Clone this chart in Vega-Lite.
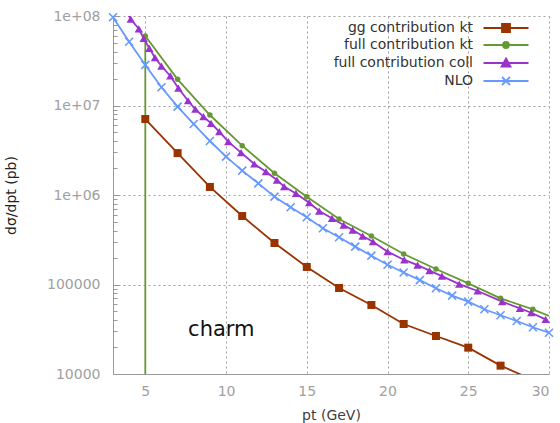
{
  "$schema": "https://vega.github.io/schema/vega-lite/v6.json",
  "width": 436,
  "height": 358,
  "autosize": "none",
  "padding": {"left": 113, "top": 16, "right": 11, "bottom": 49},
  "background": "white",
  "config": {"font": "DejaVu Sans", "view": {"stroke": null}},
  "datasets": {
    "curves": [
      {"series": "gg contribution kt", "pt": 5, "v": 7060000},
      {"series": "gg contribution kt", "pt": 7, "v": 2940000},
      {"series": "gg contribution kt", "pt": 9, "v": 1230000},
      {"series": "gg contribution kt", "pt": 11, "v": 582000},
      {"series": "gg contribution kt", "pt": 13, "v": 291000},
      {"series": "gg contribution kt", "pt": 15, "v": 157000},
      {"series": "gg contribution kt", "pt": 17, "v": 91400},
      {"series": "gg contribution kt", "pt": 19, "v": 59000},
      {"series": "gg contribution kt", "pt": 21, "v": 36200},
      {"series": "gg contribution kt", "pt": 23, "v": 26600},
      {"series": "gg contribution kt", "pt": 25, "v": 19700},
      {"series": "gg contribution kt", "pt": 27, "v": 12400},
      {"series": "gg contribution kt", "pt": 29, "v": 8600},
      {"series": "full contribution kt", "pt": 5, "v": 1},
      {"series": "full contribution kt", "pt": 5, "v": 59900000},
      {"series": "full contribution kt", "pt": 7, "v": 19600000},
      {"series": "full contribution kt", "pt": 9, "v": 7830000},
      {"series": "full contribution kt", "pt": 11, "v": 3560000},
      {"series": "full contribution kt", "pt": 13, "v": 1750000},
      {"series": "full contribution kt", "pt": 15, "v": 957000},
      {"series": "full contribution kt", "pt": 17, "v": 540000},
      {"series": "full contribution kt", "pt": 19, "v": 348000},
      {"series": "full contribution kt", "pt": 21, "v": 219000},
      {"series": "full contribution kt", "pt": 23, "v": 149000},
      {"series": "full contribution kt", "pt": 25, "v": 103000},
      {"series": "full contribution kt", "pt": 27, "v": 70000},
      {"series": "full contribution kt", "pt": 29, "v": 52800},
      {"series": "full contribution kt", "pt": 30, "v": 44500},
      {"series": "full contribution coll", "pt": 3.6, "v": 130000000},
      {"series": "full contribution coll", "pt": 4.1, "v": 92500000},
      {"series": "full contribution coll", "pt": 4.6, "v": 71600000},
      {"series": "full contribution coll", "pt": 4.9, "v": 56400000},
      {"series": "full contribution coll", "pt": 5.25, "v": 43600000},
      {"series": "full contribution coll", "pt": 5.6, "v": 34200000},
      {"series": "full contribution coll", "pt": 6.0, "v": 27600000},
      {"series": "full contribution coll", "pt": 6.55, "v": 21400000},
      {"series": "full contribution coll", "pt": 7.05, "v": 15600000},
      {"series": "full contribution coll", "pt": 7.65, "v": 11300000},
      {"series": "full contribution coll", "pt": 8.1, "v": 9080000},
      {"series": "full contribution coll", "pt": 8.6, "v": 7500000},
      {"series": "full contribution coll", "pt": 9.07, "v": 6330000},
      {"series": "full contribution coll", "pt": 9.58, "v": 5100000},
      {"series": "full contribution coll", "pt": 10.14, "v": 3940000},
      {"series": "full contribution coll", "pt": 10.93, "v": 2970000},
      {"series": "full contribution coll", "pt": 11.75, "v": 2220000},
      {"series": "full contribution coll", "pt": 12.47, "v": 1820000},
      {"series": "full contribution coll", "pt": 13.15, "v": 1470000},
      {"series": "full contribution coll", "pt": 13.6, "v": 1240000},
      {"series": "full contribution coll", "pt": 14.33, "v": 1040000},
      {"series": "full contribution coll", "pt": 15.15, "v": 820000},
      {"series": "full contribution coll", "pt": 15.77, "v": 662000},
      {"series": "full contribution coll", "pt": 16.56, "v": 549000},
      {"series": "full contribution coll", "pt": 17.28, "v": 462000},
      {"series": "full contribution coll", "pt": 17.84, "v": 406000},
      {"series": "full contribution coll", "pt": 18.46, "v": 348000},
      {"series": "full contribution coll", "pt": 19.1, "v": 301000},
      {"series": "full contribution coll", "pt": 20.0, "v": 233000},
      {"series": "full contribution coll", "pt": 21.04, "v": 188000},
      {"series": "full contribution coll", "pt": 21.86, "v": 165000},
      {"series": "full contribution coll", "pt": 22.6, "v": 143000},
      {"series": "full contribution coll", "pt": 23.37, "v": 124000},
      {"series": "full contribution coll", "pt": 24.44, "v": 101000},
      {"series": "full contribution coll", "pt": 25.58, "v": 84600},
      {"series": "full contribution coll", "pt": 27.1, "v": 64300},
      {"series": "full contribution coll", "pt": 28.2, "v": 54200},
      {"series": "full contribution coll", "pt": 28.9, "v": 48400},
      {"series": "full contribution coll", "pt": 29.79, "v": 40800},
      {"series": "NLO", "pt": 3, "v": 96700000},
      {"series": "NLO", "pt": 4, "v": 51600000},
      {"series": "NLO", "pt": 5, "v": 28400000},
      {"series": "NLO", "pt": 6, "v": 16000000},
      {"series": "NLO", "pt": 7, "v": 9710000},
      {"series": "NLO", "pt": 8, "v": 6210000},
      {"series": "NLO", "pt": 9, "v": 4010000},
      {"series": "NLO", "pt": 10, "v": 2680000},
      {"series": "NLO", "pt": 11, "v": 1870000},
      {"series": "NLO", "pt": 12, "v": 1350000},
      {"series": "NLO", "pt": 13, "v": 958000},
      {"series": "NLO", "pt": 14, "v": 729000},
      {"series": "NLO", "pt": 15, "v": 564000},
      {"series": "NLO", "pt": 16, "v": 425000},
      {"series": "NLO", "pt": 17, "v": 337000},
      {"series": "NLO", "pt": 18, "v": 265000},
      {"series": "NLO", "pt": 19, "v": 210000},
      {"series": "NLO", "pt": 20, "v": 166000},
      {"series": "NLO", "pt": 21, "v": 136000},
      {"series": "NLO", "pt": 22, "v": 112000},
      {"series": "NLO", "pt": 23, "v": 90700},
      {"series": "NLO", "pt": 24, "v": 75000},
      {"series": "NLO", "pt": 25, "v": 64300},
      {"series": "NLO", "pt": 26, "v": 52900},
      {"series": "NLO", "pt": 27, "v": 45300},
      {"series": "NLO", "pt": 28, "v": 39100},
      {"series": "NLO", "pt": 29, "v": 33300},
      {"series": "NLO", "pt": 30, "v": 28900}
    ],
    "note": [{"pt": 7.65, "v": 26600, "label": "charm"}]
  },
  "resolve": {"axis": {"y": "independent"}},
  "layer": [
    {
      "data": {"name": "curves"},
      "mark": {"type": "line", "clip": true, "strokeWidth": 1.8},
      "encoding": {
        "x": {
          "field": "pt", "type": "quantitative",
          "scale": {"domain": [3, 30], "nice": false, "zero": false},
          "axis": {
            "values": [5, 10, 15, 20, 25, 30],
            "grid": true, "gridDash": [2, 3], "gridColor": "#a0a0a0", "gridOpacity": 1,
            "domainColor": "#999999", "ticks": false,
            "labelColor": "#a0a0a0", "labelFontSize": 14, "labelPadding": 10,
            "title": "pt (GeV)", "titleFontSize": 14, "titleFontWeight": "normal",
            "titleColor": "#404040", "titlePadding": 10
          }
        },
        "y": {
          "field": "v", "type": "quantitative",
          "scale": {"type": "log", "domain": [10000, 100000000], "nice": false},
          "axis": {
            "orient": "left",
            "values": [10000, 100000, 1000000, 10000000, 100000000],
            "labelExpr": "datum.value == 100000000 ? '1e+08' : datum.value == 10000000 ? '1e+07' : datum.value == 1000000 ? '1e+06' : format(datum.value, 'd')",
            "grid": true, "gridDash": [2, 3], "gridColor": "#a0a0a0", "gridOpacity": 1,
            "domainColor": "#999999", "tickColor": "#999999", "tickSize": -6,
            "labelColor": "#a0a0a0", "labelFontSize": 14, "labelPadding": 19,
            "title": "dσ/dpt (pb)", "titleFontSize": 14, "titleFontWeight": "normal",
            "titleColor": "#222222", "titlePadding": 28
          }
        },
        "color": {
          "field": "series", "type": "nominal",
          "scale": {
            "domain": ["gg contribution kt", "full contribution kt", "full contribution coll", "NLO"],
            "range": ["#993300", "#669933", "#9933cc", "#6699ff"]
          },
          "legend": {
            "orient": "top-right", "title": null, "offset": 5,
            "labelFontSize": 14, "labelColor": "#333333", "labelAlign": "right",
            "labelOffset": -40, "symbolSize": 100, "symbolStrokeWidth": 1.8,
            "rowPadding": 2,
            "encode": {
              "symbols": {
                "update": {
                  "shape": {"signal": "datum.value === 'gg contribution kt' ? 'M-4.5,0H4.5M-0.8,-0.8H0.8V0.8H-0.8ZM6.7,0' : datum.value === 'full contribution kt' ? 'M-4.5,0H4.5M0.6,0A0.6,0.6,0,1,1,-0.6,0A0.6,0.6,0,1,1,0.6,0ZM6.7,0' : datum.value === 'full contribution coll' ? 'M-4.5,0H4.5M0,-0.9L0.9,0.7H-0.9ZM6.7,0' : 'M-4.5,0H4.5M-0.8,-0.8L0.8,0.8M-0.8,0.8L0.8,-0.8M6.7,0'"},
                  "fill": {"signal": "scale('color', datum.value)"},
                  "stroke": {"signal": "scale('color', datum.value)"}
                }
              }
            }
          }
        }
      }
    },
    {
      "data": {"name": "curves"},
      "transform": [{"filter": "datum.series == 'gg contribution kt' && datum.v >= 10000 && datum.v <= 100000000"}],
      "mark": {"type": "point", "shape": "square", "filled": true, "opacity": 1, "size": 64},
      "encoding": {
        "x": {"field": "pt", "type": "quantitative"},
        "y": {
          "field": "v", "type": "quantitative",
          "axis": {
            "orient": "left",
            "values": [20000, 30000, 40000, 50000, 60000, 70000, 80000, 90000, 200000, 300000, 400000, 500000, 600000, 700000, 800000, 900000, 2000000, 3000000, 4000000, 5000000, 6000000, 7000000, 8000000, 9000000, 20000000, 30000000, 40000000, 50000000, 60000000, 70000000, 80000000, 90000000],
            "labels": false, "grid": false, "domain": false,
            "tickSize": -4, "tickColor": "#999999", "title": null
          }
        },
        "color": {"field": "series", "type": "nominal"}
      }
    },
    {
      "data": {"name": "curves"},
      "transform": [{"filter": "datum.series == 'full contribution kt' && datum.pt < 30 && datum.v >= 10000 && datum.v <= 100000000"}],
      "mark": {"type": "point", "shape": "circle", "filled": true, "opacity": 1, "size": 30},
      "encoding": {
        "x": {"field": "pt", "type": "quantitative"},
        "y": {"field": "v", "type": "quantitative", "axis": null},
        "color": {"field": "series", "type": "nominal"}
      }
    },
    {
      "data": {"name": "curves"},
      "transform": [{"filter": "datum.series == 'full contribution coll' && datum.v >= 10000 && datum.v <= 100000000"}],
      "mark": {"type": "point", "shape": "triangle-up", "filled": true, "opacity": 1, "size": 70},
      "encoding": {
        "x": {"field": "pt", "type": "quantitative"},
        "y": {"field": "v", "type": "quantitative", "axis": null},
        "color": {"field": "series", "type": "nominal"}
      }
    },
    {
      "data": {"name": "curves"},
      "transform": [{"filter": "datum.series == 'NLO' && datum.v >= 10000 && datum.v <= 100000000"}],
      "mark": {"type": "point", "shape": "M-1,-1L1,1M-1,1L1,-1", "filled": false, "opacity": 1, "size": 64, "strokeWidth": 1.6},
      "encoding": {
        "x": {"field": "pt", "type": "quantitative"},
        "y": {"field": "v", "type": "quantitative", "axis": null},
        "color": {"field": "series", "type": "nominal"}
      }
    },
    {
      "data": {"name": "note"},
      "mark": {"type": "text", "align": "left", "baseline": "alphabetic", "fontSize": 21, "color": "#111111"},
      "encoding": {
        "x": {"field": "pt", "type": "quantitative"},
        "y": {"field": "v", "type": "quantitative", "axis": null},
        "text": {"field": "label"}
      }
    }
  ]
}
